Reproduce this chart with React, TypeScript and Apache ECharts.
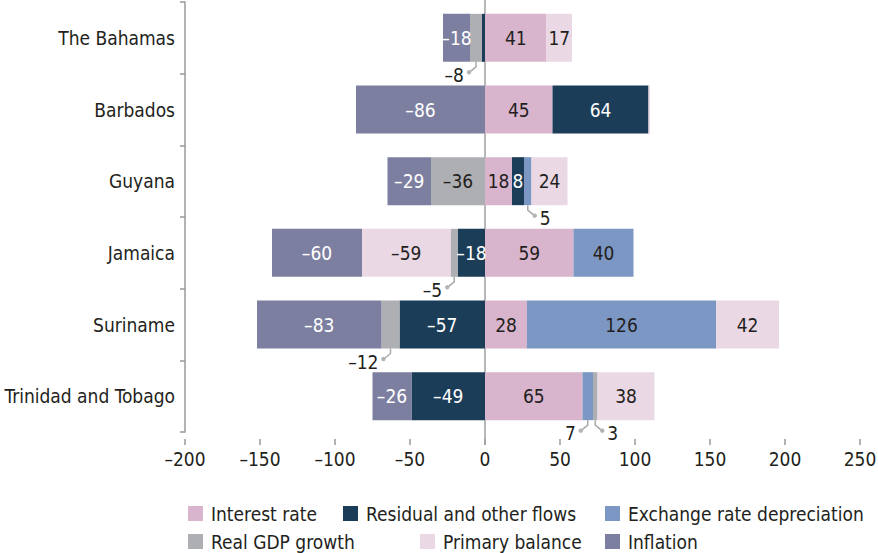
import React, { useEffect, useRef } from "react";
import * as echarts from "echarts";

const categories = ["The Bahamas", "Barbados", "Guyana", "Jamaica", "Suriname", "Trinidad and Tobago"];
const seriesNames = [
  "Interest rate",
  "Residual and other flows",
  "Exchange rate depreciation",
  "Real GDP growth",
  "Primary balance",
  "Inflation",
];
const interestRate = [41, 45, 18, 59, 28, 65];
const residualFlows = [-2, 64, 8, -18, -57, -49];
const exchangeRate = [0, 0, 5, 40, 126, 7];
const realGdpGrowth = [-8, 0, -36, -5, -12, 3];
const primaryBalance = [17, 1, 24, -59, 42, 38];
const inflation = [-18, -86, -29, -60, -83, -26];
const xTicks = [-200, -150, -100, -50, 0, 50, 100, 150, 200, 250];

// labels drawn outside the bar with a leader line: [category index, series index, side]
const calloutItems: [number, number, number][] = [
  [0, 3, -1],
  [2, 2, 1],
  [3, 3, -1],
  [4, 3, -1],
  [5, 2, -1],
  [5, 3, 1],
];

const colors = ["#d9b4cd", "#1c3d58", "#7c97c3", "#aeafb2", "#ebd8e5", "#7d7fa1"];
const labelColors = ["#231f20", "#ffffff", "#231f20", "#231f20", "#231f20", "#ffffff"];
const FONT = "'DejaVu Sans Condensed', 'Liberation Sans', sans-serif";
const FS = 19;
const TEXT = "#231f20";
const GRID_TOP = 2;
const GRID_H = 430;
const BAR_W = 48;

const fmt = (v: number) => String(v).replace("-", "\u2013");

export default function App() {
  const ref = useRef<HTMLDivElement>(null);
  useEffect(() => {
    if (!ref.current) return;
    const chart = echarts.init(ref.current, null, { renderer: "svg" });
    const allData = [interestRate, residualFlows, exchangeRate, realGdpGrowth, primaryBalance, inflation];
    const isCallout = (c: number, s: number) => calloutItems.some((a) => a[0] === c && a[1] === s);

    const legendPos: [number, number][] = [
      [188, 504],
      [343, 504],
      [605, 504],
      [188, 532],
      [420, 532],
      [605, 532],
    ];

    chart.setOption({
      animation: false,
      grid: { left: 185, right: 18, top: GRID_TOP, height: GRID_H, outerBoundsMode: "none", containLabel: false },
      legend: seriesNames.map((n, i) => ({
        data: [n],
        left: legendPos[i][0],
        top: legendPos[i][1],
        padding: 0,
        icon: "rect",
        itemWidth: 15,
        itemHeight: 15,
        selectedMode: false,
        textStyle: { fontSize: FS, fontFamily: FONT, color: TEXT, padding: [0, 0, 0, 3] },
      })),
      xAxis: {
        type: "value",
        min: -200,
        max: 250,
        interval: 50,
        offset: 7,
        axisLine: { show: false },
        axisTick: { show: true, length: 6, lineStyle: { color: "#9a9a9a", width: 1.5 } },
        splitLine: { show: false },
        axisLabel: {
          fontSize: FS,
          fontFamily: FONT,
          color: TEXT,
          margin: 10,
          formatter: (v: number) => fmt(v),
          customValues: xTicks,
        },
      },
      yAxis: {
        type: "category",
        data: categories,
        inverse: true,
        axisLine: { show: true, onZero: false, lineStyle: { color: "#9a9a9a", width: 1.5 } },
        axisTick: { show: true, length: 5, lineStyle: { color: "#9a9a9a", width: 1.5 } },
        axisLabel: { fontSize: FS, fontFamily: FONT, color: TEXT, margin: 10 },
      },
      series: seriesNames.map((n, s) => ({
        name: n,
        type: "bar",
        stack: "total",
        barWidth: BAR_W,
        itemStyle: { color: colors[s] },
        label: {
          show: true,
          position: "inside",
          fontSize: FS,
          fontFamily: FONT,
          color: labelColors[s],
          formatter: (p: any) => {
            const v = p.value as number;
            if (Math.abs(v) <= 2 || isCallout(p.dataIndex, s)) return "";
            return fmt(v);
          },
        },
        data: allData[s],
      })),
    });

    const graphics: any[] = [];
    const [zx] = chart.convertToPixel({ gridIndex: 0 }, [0, 0]) as number[];
    graphics.push({
      type: "line",
      z: 1,
      silent: true,
      shape: { x1: zx, y1: GRID_TOP - 2, x2: zx, y2: GRID_TOP + GRID_H + 13 },
      style: { stroke: "#a0a0a0", lineWidth: 1.5 },
    });
    calloutItems.forEach(([c, s, side]) => {
      const v = allData[s][c];
      let start = 0;
      for (let k = 0; k < s; k++) {
        const w = allData[k][c];
        if ((w >= 0) === (v >= 0)) start += w;
      }
      const [cx, cy] = chart.convertToPixel({ gridIndex: 0 }, [start + v / 2, c]) as number[];
      const b = cy + BAR_W / 2;
      graphics.push({
        type: "polyline",
        z: 10,
        silent: true,
        shape: { points: [[cx, b], [cx, b + 5], [cx + side * 5.5, b + 9.5]] },
        style: { stroke: "#a8a8a8", lineWidth: 1.5, fill: null },
      });
      graphics.push({
        type: "circle",
        z: 10,
        silent: true,
        shape: { cx: cx + side * 7, cy: b + 10.5, r: 2.2 },
        style: { fill: "#b3b3b3" },
      });
      graphics.push({
        type: "text",
        z: 10,
        silent: true,
        x: cx + side * 12,
        y: b + 13,
        style: {
          text: fmt(v),
          fontSize: FS,
          fontFamily: FONT,
          fill: TEXT,
          align: side < 0 ? "right" : "left",
          verticalAlign: "middle",
        },
      });
    });
    chart.setOption({ graphic: graphics });

    return () => chart.dispose();
  }, []);
  return <div ref={ref} style={{ position: "fixed", left: 0, top: 0, width: 878, height: 553, background: "#fff" }} />;
}
